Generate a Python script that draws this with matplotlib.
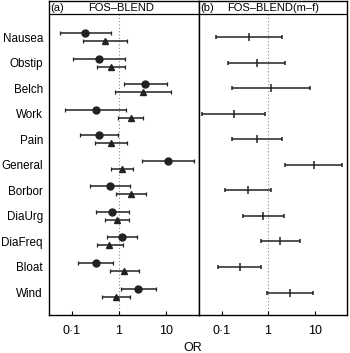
import matplotlib
matplotlib.use("Agg")
import matplotlib.pyplot as plt
import numpy as np

plt.rcParams['font.family'] = ['Liberation Sans', 'DejaVu Sans']

symptoms = ["Nausea", "Obstip", "Belch", "Work", "Pain", "General",
            "Borbor", "DiaUrg", "DiaFreq", "Bloat", "Wind"]

# Panel (a): circles (first group)
a1_or = [0.195, 0.38, 3.63, 0.32, 0.38, 10.9, 0.65, 0.72, 1.18, 0.32, 2.58]
a1_lo = [0.056, 0.109, 1.28, 0.074, 0.150, 3.08, 0.24, 0.32, 0.556, 0.139, 1.12]
a1_hi = [0.676, 1.36, 10.5, 1.43, 0.98, 39.4, 1.74, 1.66, 2.38, 0.745, 6.1]

# Panel (a): triangles (second group)
a2_or = [0.51, 0.69, 3.19, 1.77, 0.676, 1.14, 1.83, 0.92, 0.63, 1.30, 0.86]
a2_lo = [0.171, 0.34, 0.835, 0.97, 0.313, 0.666, 0.88, 0.51, 0.346, 0.65, 0.43]
a2_hi = [1.50, 1.36, 12.6, 3.24, 1.48, 1.99, 3.82, 1.66, 1.20, 2.66, 1.69]

# Panel (b): m-f
b_or = [0.385, 0.57, 1.14, 0.185, 0.58, 9.7, 0.37, 0.77, 1.85, 0.244, 2.97]
b_lo = [0.077, 0.136, 0.168, 0.038, 0.171, 2.33, 0.116, 0.288, 0.71, 0.086, 0.95]
b_hi = [1.95, 2.37, 8.0, 0.88, 1.98, 38.5, 1.16, 2.18, 4.75, 0.70, 9.25]

xticks = [0.1, 1, 10]
xticklabels = ["0\u00b71", "1", "10"]
titles = ["FOS\u2013BLEND", "FOS\u2013BLEND(m\u2013f)"]
panel_tags = ["(a)", "(b)"]

W, H = 350, 353
fig = plt.figure(figsize=(W / 100, H / 100), dpi=100)
bottom = 1 - 315 / H
top = 1 - 1 / H
lefts = [48.5 / W, 198.7 / W]
rights = [198.7 / W, 346.7 / W]

ytop, ybot = -1.409, 10.88
header_y = -0.888
off = 0.157
xlim = (10 ** -1.49, 10 ** 1.69)
col = "#222222"

axes = []
for k in range(2):
    ax = fig.add_axes([lefts[k], bottom, rights[k] - lefts[k], top - bottom])
    ax.set_xscale("log")
    ax.set_xlim(*xlim)
    ax.set_ylim(ybot, ytop)
    ax.plot([1, 1], [header_y, ybot], color="#888888", lw=0.8,
            linestyle=(0, (1, 2)), zorder=1)
    ax.axhline(header_y, color="black", lw=0.9)
    ax.text(10 ** -1.45, (ytop + header_y) / 2, panel_tags[k], fontsize=8,
            va="center", ha="left")
    ax.set_xticks(xticks)
    ax.set_xticklabels(xticklabels, fontsize=9)
    ax.xaxis.set_minor_locator(matplotlib.ticker.NullLocator())
    ax.tick_params(axis="x", direction="in", length=3, width=0.8, pad=7)
    for s in ax.spines.values():
        s.set_linewidth(1.0)
    axes.append(ax)

ax_a, ax_b = axes
ax_a.text(10 ** 0.05, (ytop + header_y) / 2, titles[0], fontsize=8,
          va="center", ha="center")
ax_b.text(10 ** 0.1, (ytop + header_y) / 2, titles[1], fontsize=8,
          va="center", ha="center")

y = np.arange(len(symptoms))

def errs(v, lo, hi):
    v = np.array(v); lo = np.array(lo); hi = np.array(hi)
    return np.vstack([v - lo, hi - v])

ax_a.errorbar(a1_or, y - off, xerr=errs(a1_or, a1_lo, a1_hi), fmt="o",
              color=col, ms=5, lw=1.1, capsize=1.5, capthick=0.9)
ax_a.errorbar(a2_or, y + off, xerr=errs(a2_or, a2_lo, a2_hi), fmt="^",
              color=col, ms=5, lw=1.1, capsize=1.5, capthick=0.9)
ax_b.errorbar(b_or, y, xerr=errs(b_or, b_lo, b_hi), fmt="|",
              color=col, ms=6, mew=1.1, lw=1.1, capsize=1.5, capthick=0.9)

ax_a.set_yticks(y)
ax_a.set_yticklabels(symptoms, fontsize=8.4)
ax_a.tick_params(axis="y", length=0, pad=4)
ax_b.set_yticks([])

fig.text(193 / W, 1 - 348 / H, "OR", fontsize=9, ha="center", va="center")

fig.savefig("out.png", dpi=100)
